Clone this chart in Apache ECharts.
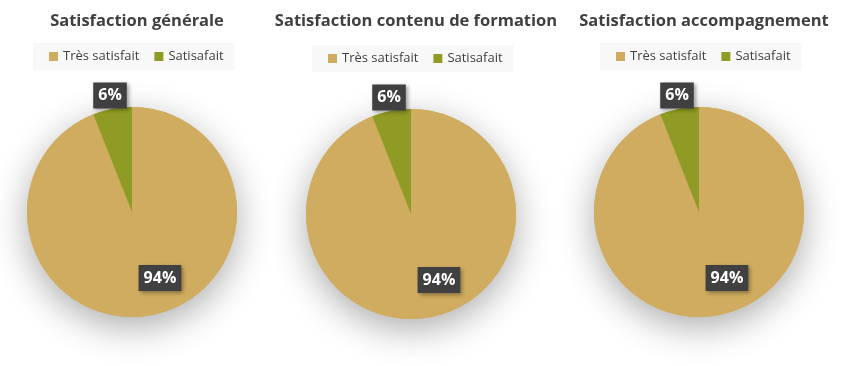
<!DOCTYPE html>
<html>
<head>
<meta charset="utf-8">
<script src="https://cdn.jsdelivr.net/npm/echarts@6/dist/echarts.min.js"></script>
<style>html,body{margin:0;padding:0;background:#fff}#c{width:866px;height:366px}</style>
</head>
<body>
<div id="c"></div>
<script>
const titles = ['Satisfaction générale', 'Satisfaction contenu de formation', 'Satisfaction accompagnement'];
const categories = ['Très satisfait', 'Satisafait'];
const generale = [94, 6];
const contenu = [94, 6];
const accompagnement = [94, 6];
const colors = ['#CFAC5F', '#8F9B24'];

const valuesList = [generale, contenu, accompagnement];
const centers = [[132, 212], [411, 214], [699, 212]];
const legendPos = [[33, 43], [312, 45], [600, 43]];
const R = 105;
const FONT = '"Open Sans", "Noto Sans", sans-serif';

const labelStyle = {
  color: '#fff', fontWeight: 'bold', fontSize: 16, fontFamily: FONT,
  backgroundColor: '#404040', padding: [4, 5, 3, 5], lineHeight: 19,
  shadowColor: 'rgba(0,0,0,0.35)', shadowBlur: 4, shadowOffsetX: 2, shadowOffsetY: 2
};

const option = { animation: false, title: [], legend: [], series: [] };

valuesList.forEach((vals, i) => {
  option.title.push({
    text: titles[i], left: centers[i][0], top: 8, textAlign: 'center',
    textStyle: { fontSize: 16.5, fontWeight: 'bold', color: '#404040', fontFamily: FONT }
  });
  option.legend.push({
    data: categories, left: legendPos[i][0], top: legendPos[i][1],
    backgroundColor: '#f8f8f8', padding: [7, 11, 7, 16], itemGap: 15,
    itemWidth: 9, itemHeight: 9, icon: 'rect', selectedMode: false,
    textStyle: { fontSize: 13, color: '#404040', fontFamily: FONT }
  });
});

// visible pies first (legend colour lookup)
valuesList.forEach((vals, i) => {
  option.series.push({
    type: 'pie', center: centers[i], radius: R, z: 3, silent: true,
    startAngle: 90, clockwise: true,
    label: { show: false }, labelLine: { show: false },
    data: categories.map((c, k) => ({ name: c, value: vals[k], itemStyle: { color: colors[k] } }))
  });
});
// shadow discs
valuesList.forEach((vals, i) => {
  option.series.push({
    type: 'pie', center: centers[i], radius: R, z: 1, silent: true,
    label: { show: false }, labelLine: { show: false },
    itemStyle: { color: '#CFAC5F', shadowBlur: 36, shadowOffsetY: 10, shadowColor: 'rgba(0,0,0,0.33)' },
    data: [{ name: '_bg', value: vals.reduce((a, b) => a + b, 0) }]
  });
});
// label carriers: large-slice label inside, small-slice label outside
valuesList.forEach((vals, i) => {
  option.series.push({
    type: 'pie', center: centers[i], radius: [R * 0.36, R], z: 5, silent: true,
    startAngle: 90, clockwise: true, labelLine: { show: false },
    itemStyle: { color: 'rgba(0,0,0,0)' },
    data: categories.map((c, k) => ({
      name: c + ' ', value: vals[k],
      label: Object.assign({ show: k === 0, position: 'inside', formatter: '{c}%', offset: [14, -7] }, labelStyle)
    }))
  });
  option.series.push({
    type: 'pie', center: centers[i], radius: [R * 0.98, R * 1.3], z: 5, silent: true,
    startAngle: 90, clockwise: true, labelLine: { show: false },
    itemStyle: { color: 'rgba(0,0,0,0)' },
    data: categories.map((c, k) => ({
      name: c + '  ', value: vals[k],
      label: Object.assign({ show: k === 1, position: 'inside', formatter: '{c}%', offset: [1, 4] }, labelStyle)
    }))
  });
});

const chart = echarts.init(document.getElementById('c'), null, { renderer: 'canvas' });
chart.setOption(option);
</script>
</body>
</html>
